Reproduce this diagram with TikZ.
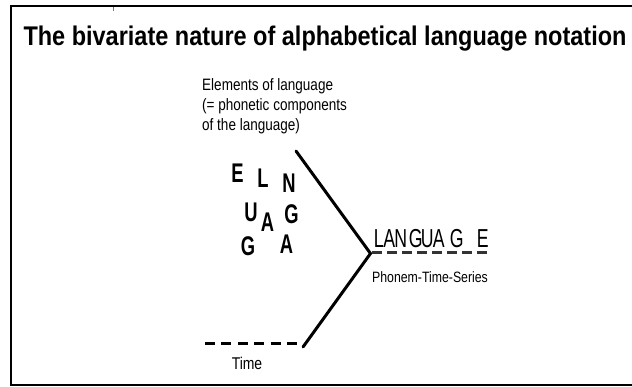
\documentclass[tikz,border=0pt]{standalone}
\usepackage{fontspec}
\setmainfont{Liberation Sans}
\newfontfamily\titlefont[FakeStretch=0.87]{Liberation Sans}
\newfontfamily\narrowfont[FakeStretch=0.82]{Liberation Sans}
\newfontfamily\letterfont[FakeStretch=0.68]{Liberation Sans}
% put one letter centred at a given offset from the start of the line
\newcommand\placeletter[2]{\rlap{\hspace*{#1pt}\makebox[0pt]{#2}}}

\begin{document}
\begin{tikzpicture}[x=1pt,y=-1pt,
  frameline/.style={line width=2pt},
  stroke/.style={line width=3pt, line cap=round},
  timedash/.style={line width=3pt, dash pattern=on 10pt off 6.4pt},
  langdash/.style={line width=3pt, black!80, dash pattern=on 10pt off 5pt},
  caption/.style={inner sep=0pt, font=\narrowfont\fontsize{15}{18}\selectfont},
  letter/.style={inner sep=0pt, font=\letterfont\bfseries\fontsize{27}{27}\selectfont}]

\useasboundingbox (0,0) rectangle (632,387);

% open frame (no right side)
\draw[frameline] (634,6) -- (11,6) -- (11,385) -- (634,385);
\draw[orange!80!black, line width=1pt] (113,7) -- (113,11);

% heading
\node[anchor=base west, inner sep=0pt,
      font=\titlefont\bfseries\fontsize{27}{30}\selectfont] (title) at (23.3,46)
  {The bivariate nature of alphabetical language notation};

% description of the letter cloud (anchored on the last baseline)
\node[caption, anchor=base west, align=left,
      font=\narrowfont\fontsize{16.5}{20}\selectfont] (elements) at (202,131)
  {Elements of language\\(= phonetic components\\of the language)};

% scattered letters
\node[letter] (e1) at (237.5,173) {E};
\node[letter] (l1) at (263,178) {L};
\node[letter] (n1) at (289,183) {N};
\node[letter] (u1) at (251,212) {U};
\node[letter] (a1) at (267.5,222.5) {A};
\node[letter] (g1) at (291.5,214) {G};
\node[letter] (g2) at (248,246.5) {G};
\node[letter] (a2) at (286.5,244) {A};

% the two strands meeting in one point
\coordinate (topend) at (296,151);
\coordinate (vertex) at (370.5,253.5);
\coordinate (botend) at (303,347);
\coordinate (timeleft) at (205,344);
\coordinate (timeright) at (297,344);
\draw[stroke] (topend) -- (vertex) -- (botend);
\draw[timedash] (timeleft) -- (timeright);
\node[caption, font=\narrowfont\fontsize{17}{20}\selectfont] (time) at (247,363.5) {Time};

% resulting word with its time axis
\node[anchor=base west, inner sep=0pt,
      font=\letterfont\fontsize{26}{28}\selectfont] (word) at (374,247.5)
  {\makebox[114pt][l]{\placeletter{4.5}{L}\placeletter{15}{A}\placeletter{26.5}{N}%
   \placeletter{41.5}{G}\placeletter{53}{U}\placeletter{64.5}{A}%
   \placeletter{82.5}{G}\placeletter{108.5}{E}}};
\coordinate (wordleft) at (372,253);
\coordinate (wordright) at (489,253);
\draw[langdash] (wordleft) -- (wordright);
\node[caption] (series) at (430,277) {Phonem-Time-Series};

\end{tikzpicture}
\end{document}
